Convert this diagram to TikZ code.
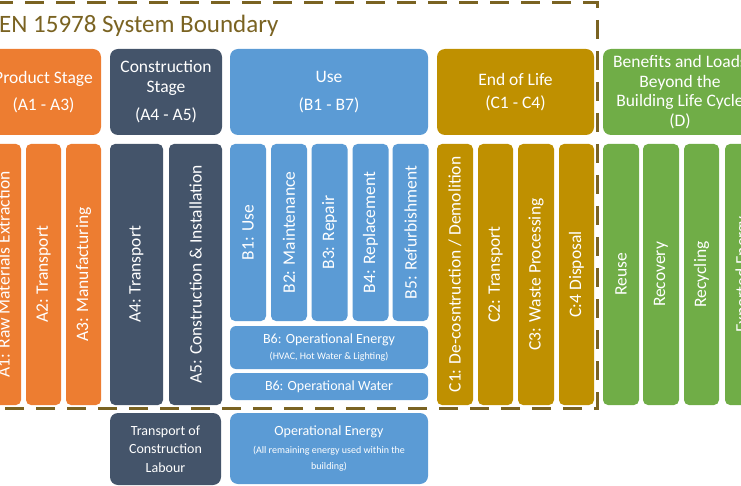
\documentclass[tikz,border=0pt]{standalone}
\usepackage{fontspec}
\setmainfont{Carlito}

\definecolor{prodorange}{HTML}{ED7D31}
\definecolor{consslate}{HTML}{44546A}
\definecolor{useblue}{HTML}{5B9BD5}
\definecolor{eolgold}{HTML}{BF9000}
\definecolor{bengreen}{HTML}{70AD47}
\definecolor{boundbrown}{HTML}{7A6322}

\begin{document}
\begin{tikzpicture}[x=1pt, y=-1pt]
        \tikzstyle{every node}=[rectangle, inner sep=2pt, text=white, align=center]
        \tikzstyle{head}=[rounded corners=8pt, minimum height=86pt, font=\fontsize{17.5}{19.5}\selectfont]
        \tikzstyle{col}=[rounded corners=5pt, rotate=90, font=\fontsize{17.5}{20}\selectfont]
        \tikzstyle{bar}=[rounded corners=6pt, minimum width=198pt, font=\fontsize{14}{16}\selectfont]
        \tikzstyle{boundary}=[boundbrown, line width=3pt, dash pattern=on 19pt off 12pt]

        \useasboundingbox (0,0) rectangle (741,486);
        \clip (0,0) rectangle (741,486);

        % system boundary
        \draw[boundary] (-6,3) -- (597,3) -- (597,408) -- (-6,408);
        \node[anchor=base west, inner sep=0pt, text=boundbrown, font=\fontsize{25}{28}\selectfont] (title) at (-1,33) {EN 15978 System Boundary};

        % stage headers
        \node[head, fill=prodorange, minimum width=115pt] (prod) at (43.5,92) {Product Stage\\[7pt](A1 - A3)};
        \node[head, fill=consslate, minimum width=112pt] (cons) at (166,92) {Construction\\Stage\\[9pt](A4 - A5)};
        \node[head, fill=useblue, minimum width=198pt] (use) at (329,92) {Use\\[8pt](B1 - B7)};
        \node[head, fill=eolgold, minimum width=157pt] (eol) at (515.5,92) {End of Life\\[4pt](C1 - C4)};
        \node[head, fill=bengreen, minimum width=154pt] (ben) at (680,92) {Benefits and Loads\\Beyond the\\Building Life Cycle\\(D)};

        % product and construction modules
        \node[col, fill=prodorange, minimum width=261pt, minimum height=35pt] (a1) at (3.5,274.5) {A1: Raw Materials Extraction};
        \node[col, fill=prodorange, minimum width=261pt, minimum height=35pt] (a2) at (43.5,274.5) {A2: Transport};
        \node[col, fill=prodorange, minimum width=261pt, minimum height=35pt] (a3) at (83.5,274.5) {A3: Manufacturing};
        \node[col, fill=consslate, minimum width=261pt, minimum height=53pt] (a4) at (136.5,274.5) {A4: Transport};
        \node[col, fill=consslate, minimum width=261pt, minimum height=53pt] (a5) at (195.5,274.5) {A5: Construction \& Installation};

        % use modules
        \node[col, fill=useblue, minimum width=177pt, minimum height=36pt] (b1) at (248,232.5) {B1: Use};
        \node[col, fill=useblue, minimum width=177pt, minimum height=36pt] (b2) at (289,232.5) {B2: Maintenance};
        \node[col, fill=useblue, minimum width=177pt, minimum height=36pt] (b3) at (329.5,232.5) {B3: Repair};
        \node[col, fill=useblue, minimum width=177pt, minimum height=36pt] (b4) at (370.5,232.5) {B4: Replacement};
        \node[col, fill=useblue, minimum width=177pt, minimum height=36pt] (b5) at (410.5,232.5) {B5: Refurbishment};
        \node[bar, fill=useblue, minimum height=43pt] (b6e) at (329,347.5) {B6: Operational Energy\\\fontsize{10}{15}\selectfont (HVAC, Hot Water \& Lighting)};
        \node[bar, fill=useblue, minimum height=27pt] (b6w) at (329,386.5) {B6: Operational Water};

        % end of life modules
        \node[col, fill=eolgold, minimum width=261pt, minimum height=36pt] (c1) at (455,274.5) {C1: De-cosntruction / Demolition};
        \node[col, fill=eolgold, minimum width=261pt, minimum height=35pt] (c2) at (495.5,274.5) {C2: Transport};
        \node[col, fill=eolgold, minimum width=261pt, minimum height=36pt] (c3) at (536,274.5) {C3: Waste Processing};
        \node[col, fill=eolgold, minimum width=261pt, minimum height=35pt] (c4) at (576.5,274.5) {C:4 Disposal};

        % beyond the life cycle
        \node[col, fill=bengreen, minimum width=261pt, minimum height=36pt] (d1) at (621,274.5) {Reuse};
        \node[col, fill=bengreen, minimum width=261pt, minimum height=36pt] (d2) at (661,274.5) {Recovery};
        \node[col, fill=bengreen, minimum width=261pt, minimum height=35pt] (d3) at (701.5,274.5) {Recycling};
        \node[col, fill=bengreen, minimum width=261pt, minimum height=36pt] (d4) at (743,274.5) {Exported Energy};

        % outside the boundary
        \node[rounded corners=8pt, fill=consslate, minimum width=111pt, minimum height=72pt, font=\fontsize{14}{18.5}\selectfont] (labour) at (165.5,449) {Transport of\\Construction\\Labour};
        \node[bar, rounded corners=8pt, fill=useblue, minimum height=71pt] (opener) at (329,448.5) {Operational Energy\\[2pt]\fontsize{10}{14}\selectfont (All remaining energy used within the\\\fontsize{10}{14}\selectfont building)};
    \end{tikzpicture}
\end{document}
